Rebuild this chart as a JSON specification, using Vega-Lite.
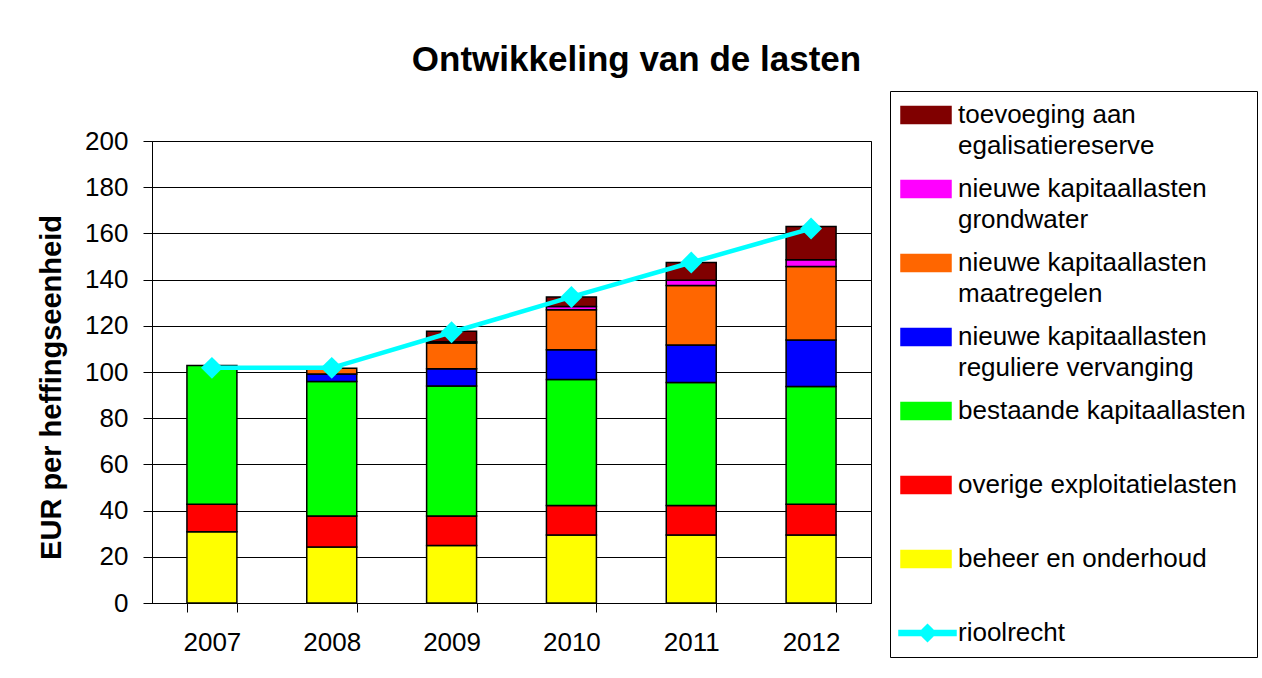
{
  "$schema": "https://vega.github.io/schema/vega-lite/v6.json",
  "width": 719,
  "height": 462,
  "autosize": "none",
  "padding": {"left": 152, "top": 141, "right": 391, "bottom": 75},
  "background": "white",
  "config": {
    "font": "Liberation Sans",
    "view": {"stroke": "black", "strokeWidth": 1}
  },
  "title": {
    "text": "Ontwikkeling van de lasten",
    "font": "Liberation Sans",
    "fontSize": 35,
    "fontWeight": "bold",
    "color": "black",
    "anchor": "middle",
    "frame": "group",
    "dx": 125,
    "baseline": "alphabetic",
    "offset": -15
  },
  "data": {
    "values": [
      {"year": "2007", "series": "beheer en onderhoud", "value": 30.8},
      {"year": "2007", "series": "overige exploitatielasten", "value": 12.0},
      {"year": "2007", "series": "bestaande kapitaallasten", "value": 60.0},
      {"year": "2007", "series": "rioolrecht", "value": 101.8},
      {"year": "2008", "series": "beheer en onderhoud", "value": 24.2},
      {"year": "2008", "series": "overige exploitatielasten", "value": 13.5},
      {"year": "2008", "series": "bestaande kapitaallasten", "value": 58.2},
      {"year": "2008", "series": "nieuwe kapitaallasten reguliere vervanging", "value": 3.2},
      {"year": "2008", "series": "nieuwe kapitaallasten maatregelen", "value": 2.5},
      {"year": "2008", "series": "rioolrecht", "value": 101.8},
      {"year": "2009", "series": "beheer en onderhoud", "value": 24.9},
      {"year": "2009", "series": "overige exploitatielasten", "value": 12.8},
      {"year": "2009", "series": "bestaande kapitaallasten", "value": 56.2},
      {"year": "2009", "series": "nieuwe kapitaallasten reguliere vervanging", "value": 7.5},
      {"year": "2009", "series": "nieuwe kapitaallasten maatregelen", "value": 11.2},
      {"year": "2009", "series": "nieuwe kapitaallasten grondwater", "value": 0.5},
      {"year": "2009", "series": "toevoeging aan egalisatiereserve", "value": 4.5},
      {"year": "2009", "series": "rioolrecht", "value": 117.2},
      {"year": "2010", "series": "beheer en onderhoud", "value": 29.4},
      {"year": "2010", "series": "overige exploitatielasten", "value": 12.8},
      {"year": "2010", "series": "bestaande kapitaallasten", "value": 54.6},
      {"year": "2010", "series": "nieuwe kapitaallasten reguliere vervanging", "value": 12.8},
      {"year": "2010", "series": "nieuwe kapitaallasten maatregelen", "value": 17.4},
      {"year": "2010", "series": "nieuwe kapitaallasten grondwater", "value": 1.4},
      {"year": "2010", "series": "toevoeging aan egalisatiereserve", "value": 4.1},
      {"year": "2010", "series": "rioolrecht", "value": 132.5},
      {"year": "2011", "series": "beheer en onderhoud", "value": 29.4},
      {"year": "2011", "series": "overige exploitatielasten", "value": 12.8},
      {"year": "2011", "series": "bestaande kapitaallasten", "value": 53.3},
      {"year": "2011", "series": "nieuwe kapitaallasten reguliere vervanging", "value": 16.2},
      {"year": "2011", "series": "nieuwe kapitaallasten maatregelen", "value": 25.7},
      {"year": "2011", "series": "nieuwe kapitaallasten grondwater", "value": 2.3},
      {"year": "2011", "series": "toevoeging aan egalisatiereserve", "value": 7.7},
      {"year": "2011", "series": "rioolrecht", "value": 147.4},
      {"year": "2012", "series": "beheer en onderhoud", "value": 29.4},
      {"year": "2012", "series": "overige exploitatielasten", "value": 13.4},
      {"year": "2012", "series": "bestaande kapitaallasten", "value": 50.9},
      {"year": "2012", "series": "nieuwe kapitaallasten reguliere vervanging", "value": 20.2},
      {"year": "2012", "series": "nieuwe kapitaallasten maatregelen", "value": 31.8},
      {"year": "2012", "series": "nieuwe kapitaallasten grondwater", "value": 2.9},
      {"year": "2012", "series": "toevoeging aan egalisatiereserve", "value": 14.4},
      {"year": "2012", "series": "rioolrecht", "value": 162.1}
    ]
  },
  "encoding": {
    "x": {
      "field": "year",
      "type": "ordinal",
      "scale": {"paddingInner": 0.583, "paddingOuter": 0.2915},
      "axis": {
        "title": null,
        "labelAngle": 0,
        "labelFontSize": 26,
        "labelColor": "black",
        "tickBand": "extent",
        "tickSize": 9,
        "tickColor": "black",
        "domainColor": "black",
        "labelPadding": 17,
        "grid": false
      }
    },
    "y": {
      "field": "value",
      "type": "quantitative",
      "scale": {"domain": [0, 200]},
      "axis": {
        "values": [0, 20, 40, 60, 80, 100, 120, 140, 160, 180, 200],
        "title": "EUR per heffingseenheid",
        "titleFontSize": 29,
        "titleFontWeight": "bold",
        "titleColor": "black",
        "titleX": -101,
        "titleY": 246,
        "titleAlign": "center",
        "titleBaseline": "middle",
        "labelFontSize": 26,
        "labelColor": "black",
        "labelPadding": 15,
        "tickSize": 9,
        "tickColor": "black",
        "domainColor": "black",
        "grid": true,
        "gridColor": "black",
        "gridWidth": 1
      }
    },
    "color": {
      "field": "series",
      "type": "nominal",
      "scale": {
        "domain": [
          "toevoeging aan egalisatiereserve",
          "nieuwe kapitaallasten grondwater",
          "nieuwe kapitaallasten maatregelen",
          "nieuwe kapitaallasten reguliere vervanging",
          "bestaande kapitaallasten",
          "overige exploitatielasten",
          "beheer en onderhoud",
          "rioolrecht"
        ],
        "range": ["#800000", "#FF00FF", "#FF6600", "#0000FF", "#00FF00", "#FF0000", "#FFFF00", "#00FFFF"]
      },
      "legend": {
        "orient": "none",
        "legendX": 738,
        "legendY": -50,
        "title": null,
        "strokeColor": "black",
        "fillColor": "white",
        "padding": 11,
        "labelFontSize": 26,
        "labelColor": "black",
        "labelLimit": 500,
        "labelBaseline": "middle",
        "symbolSize": 100,
        "symbolType": "M-5,-1.7H5V1.7H-5Z",
        "symbolOffset": 12,
        "labelOffset": 19,
        "rowPadding": 17,
        "gridAlign": "all",
        "labelExpr": "indexof(datum.label, 'nieuwe kapitaallasten ') == 0 ? ['nieuwe kapitaallasten', slice(datum.label, 22)] : datum.label == 'toevoeging aan egalisatiereserve' ? ['toevoeging aan', 'egalisatiereserve'] : datum.label",
        "encode": {
          "symbols": {
            "update": {
              "shape": {"signal": "datum.value === 'rioolrecht' ? 'M-5.4,-0.5H6V0.5H-5.4Z M0.3,-1.7L2,0L0.3,1.7L-1.4,0Z' : 'M-5,-1.7H5V1.7H-5Z'"},
              "stroke": {"signal": "datum.value === 'rioolrecht' ? 'transparent' : 'black'"},
              "strokeWidth": {"value": 1.5},
              "fill": {"scale": "color", "field": "value"},
              "opacity": {"value": 1},
              "fillOpacity": {"value": 1}
            }
          },
          "labels": {
            "update": {
              "lineHeight": {"value": 31}
            }
          }
        }
      }
    }
  },
  "layer": [
    {
      "transform": [
        {"filter": "datum.series !== 'rioolrecht'"},
        {"calculate": "indexof(['beheer en onderhoud', 'overige exploitatielasten', 'bestaande kapitaallasten', 'nieuwe kapitaallasten reguliere vervanging', 'nieuwe kapitaallasten maatregelen', 'nieuwe kapitaallasten grondwater', 'toevoeging aan egalisatiereserve'], datum.series)", "as": "stackorder"}
      ],
      "mark": {"type": "bar", "stroke": "black", "strokeWidth": 1.5, "opacity": 1},
      "encoding": {
        "order": {"field": "stackorder", "type": "quantitative"}
      }
    },
    {
      "transform": [{"filter": "datum.series === 'rioolrecht'"}],
      "mark": {
        "type": "line",
        "strokeWidth": 4.5,
        "color": "#00FFFF",
        "point": {"shape": "diamond", "size": 480, "filled": true, "color": "#00FFFF", "opacity": 1}
      }
    }
  ]
}
